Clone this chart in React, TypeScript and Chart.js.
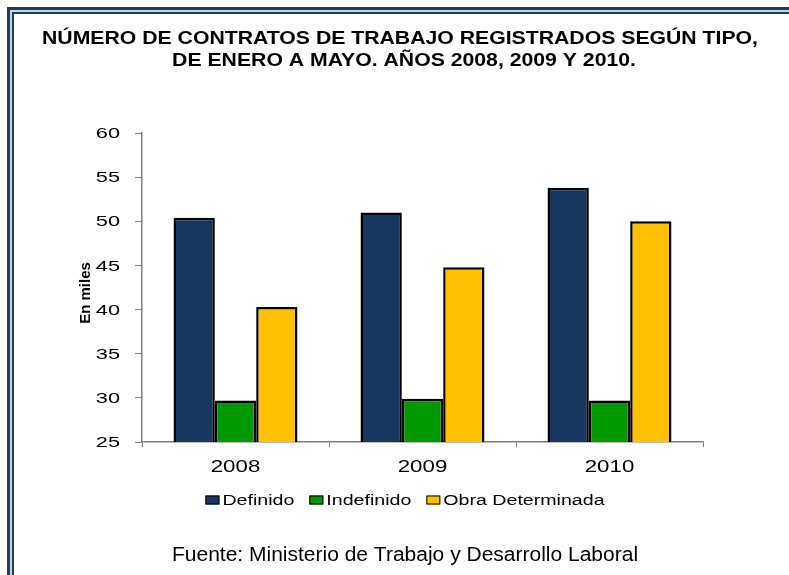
import React, { useEffect, useRef } from "react";
import { Chart, registerables } from "chart.js";

Chart.register(...registerables);

const categories = ["2008", "2009", "2010"];
const seriesNames = ["Definido", "Indefinido", "Obra Determinada"];
const definido = [50.4, 51.0, 53.8];
const indefinido = [29.7, 29.9, 29.7];
const obraDeterminada = [40.3, 44.8, 50.0];
const yTicks = [25, 30, 35, 40, 45, 50, 55, 60];
const titleLines = [
  "NÚMERO DE CONTRATOS DE TRABAJO REGISTRADOS SEGÚN TIPO,",
  "DE ENERO A MAYO. AÑOS 2008, 2009 Y 2010.",
];
const yAxisTitle = "En miles";
const sourceText = "Fuente: Ministerio de Trabajo y Desarrollo Laboral";

const seriesColors = ["#17375E", "#009900", "#FFC000"];
const FONT = '"Liberation Sans", Arial, sans-serif';

function drawText(
  ctx: CanvasRenderingContext2D,
  text: string,
  x: number,
  y: number,
  font: string,
  sx: number,
  align: "left" | "center" | "right",
  color = "#000"
) {
  ctx.save();
  ctx.font = font;
  ctx.fillStyle = color;
  ctx.textBaseline = "middle";
  ctx.textAlign = "left";
  const w = ctx.measureText(text).width * sx;
  const left = align === "left" ? x : align === "center" ? x - w / 2 : x - w;
  ctx.translate(left, y);
  ctx.scale(sx, 1);
  ctx.fillText(text, 0, 0);
  ctx.restore();
  return w;
}

const decorPlugin = {
  id: "decor",
  afterDraw(chart: any) {
    const ctx: CanvasRenderingContext2D = chart.ctx;
    const W = chart.width;
    const H = chart.height;
    ctx.save();
    // frame (double line)
    ctx.fillStyle = "#1F3A63";
    ctx.fillRect(7, 7, W - 7, 3);
    ctx.fillRect(7, 7, 3, H - 7);
    ctx.fillStyle = "#C9D2DF";
    ctx.fillRect(10, 10, W - 10, 2);
    ctx.fillRect(10, 10, 2, H - 10);
    ctx.fillStyle = "#1F3A63";
    ctx.fillRect(12, 12, W - 12, 2);
    ctx.fillRect(12, 12, 2, H - 12);
    ctx.restore();

    // title
    const tFont = `bold 19px ${FONT}`;
    ctx.save();
    ctx.font = tFont;
    const sxT = 716 / ctx.measureText(titleLines[0]).width;
    ctx.restore();
    drawText(ctx, titleLines[0], 400, 39, tFont, sxT, "center");
    drawText(ctx, titleLines[1], 404, 61, tFont, sxT, "center");

    // y tick labels
    const ys = chart.scales.y;
    ys.ticks.forEach((t: any, i: number) => {
      drawText(ctx, String(t.value), 120, ys.getPixelForTick(i) + 1, `15px ${FONT}`, 1.45, "right");
    });

    // x tick labels
    const xs = chart.scales.x;
    categories.forEach((c, i) => {
      drawText(ctx, c, xs.getPixelForValue(i), 467, `16.5px ${FONT}`, 1.35, "center");
    });

    // y axis title
    ctx.save();
    ctx.translate(86, 293);
    ctx.rotate(-Math.PI / 2);
    ctx.font = `bold 15px ${FONT}`;
    ctx.fillStyle = "#000";
    ctx.textAlign = "center";
    ctx.textBaseline = "middle";
    ctx.fillText(yAxisTitle, 0, 0);
    ctx.restore();

    // legend
    const lFont = `14px ${FONT}`;
    const lsx = 1.4;
    const boxW = 14, boxH = 9, gapBox = 3, gapItem = 15;
    ctx.save();
    ctx.font = lFont;
    const widths = chart.data.datasets.map((d: any) => ctx.measureText(d.label).width * lsx);
    ctx.restore();
    const total = widths.reduce((a: number, b: number) => a + b, 0) + chart.data.datasets.length * (boxW + gapBox) + gapItem * (chart.data.datasets.length - 1);
    let cx = 405 - total / 2;
    const ly = 500;
    chart.data.datasets.forEach((d: any, i: number) => {
      ctx.save();
      ctx.fillStyle = d.backgroundColor;
      ctx.fillRect(cx, ly - boxH / 2, boxW, boxH);
      ctx.strokeStyle = "#000";
      ctx.lineWidth = 1;
      ctx.strokeRect(cx + 0.5, ly - boxH / 2 + 0.5, boxW - 1, boxH - 1);
      ctx.restore();
      cx += boxW + gapBox;
      drawText(ctx, d.label, cx, ly + 1, lFont, lsx, "left");
      cx += widths[i] + gapItem;
    });

    // source
    drawText(ctx, sourceText, 405, 555, `20px ${FONT}`, 1.05, "center");
  },
};

export default function App() {
  const ref = useRef<HTMLCanvasElement | null>(null);
  useEffect(() => {
    if (!ref.current) return;
    const values = [definido, indefinido, obraDeterminada];
    const chart = new Chart(ref.current, {
      type: "bar",
      data: {
        labels: categories,
        datasets: seriesNames.map((name, i) => ({
          label: name,
          data: values[i],
          backgroundColor: seriesColors[i],
          borderColor: "#000000",
          borderWidth: 2.5,
          borderSkipped: false,
          categoryPercentage: 0.663,
          barPercentage: 1.0,
        })),
      },
      options: {
        responsive: false,
        animation: false,
        events: [],
        layout: { padding: { left: 0, right: 86, top: 133, bottom: 123 } },
        plugins: {
          legend: { display: false },
          title: { display: false },
          tooltip: { enabled: false },
        },
        scales: {
          x: {
            grid: {
              display: true,
              drawOnChartArea: false,
              drawTicks: true,
              tickLength: 5,
              color: "#808080",
              lineWidth: 1,
              offset: true,
            },
            border: { display: true, color: "#808080", width: 1.5 },
            ticks: { display: false },
            afterFit: (s: any) => {
              s.height = 10;
            },
          },
          y: {
            min: 25,
            max: 60,
            afterBuildTicks: (s: any) => {
              s.ticks = yTicks.map((v) => ({ value: v }));
            },
            grid: {
              display: true,
              drawOnChartArea: false,
              drawTicks: true,
              tickLength: 7,
              color: "#808080",
              lineWidth: 1,
            },
            border: { display: true, color: "#808080", width: 1.5 },
            ticks: { display: false },
            afterFit: (s: any) => {
              s.width = 142;
            },
          },
        },
      },
      plugins: [decorPlugin],
    });
    return () => chart.destroy();
  }, []);
  return (
    <div style={{ position: "absolute", left: 0, top: 0, width: 789, height: 575, background: "#fff" }}>
      <canvas ref={ref} width={789} height={575} style={{ display: "block", width: 789, height: 575 }} />
    </div>
  );
}
